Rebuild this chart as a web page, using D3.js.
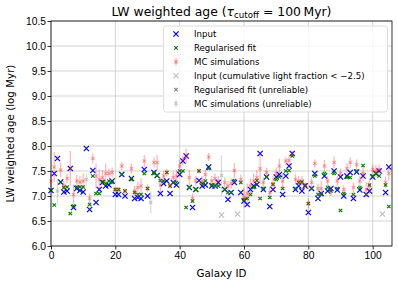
<!DOCTYPE html>
<html>
<head>
<meta charset="utf-8">
<script src="https://cdn.jsdelivr.net/npm/d3@7"></script>
<style>
  body { margin: 0; background: #fff; }
  svg { font-family: "DejaVu Sans", sans-serif; }
  .tick text { font-size: 10.3px; fill: #000; }
  .tick line { stroke: #000; stroke-width: 0.8; }
</style>
</head>
<body>
<div class="chart"></div>
<script>
var svgWidth = 398;
var svgHeight = 284;

// galaxy ids 0..105
var galaxyIds = d3.range(0, 106);

// LW weighted age (log Myr), null where galaxy is not drawn in colour
var inputAge = [7.11, 7.45, 7.75, 7.28, 7.08, 7.10, 7.55, 6.77, 7.15, 7.11,
  7.08, 7.95, 6.73, 7.51, 6.87, 7.13, 7.27, 7.20, 7.22, 7.30,
  7.03, 7.03, 7.43, 7.00, null, 7.35, 6.95, 6.97, 6.95, 7.53,
  7.00, null, 7.47, 7.41, 7.05, 7.25, 7.30, 7.05, 7.27, 7.22,
  7.43, 7.70, 7.80, 7.17, 6.77, 7.13, 7.31, 7.20, 7.22, 7.58,
  7.20, 7.20, 7.27, null, 7.13, 6.93, 7.07, 7.27, null, 7.07,
  6.90, 6.83, 7.13, 7.20, 7.23, 7.85, 7.13, 7.38, 6.79, 7.13,
  7.38, 7.43, 7.03, 7.40, 7.60, 7.85, 7.13, 7.20, 7.10, 7.20,
  6.67, 7.15, 7.45, 6.95, 7.05, 7.40, 7.10, 7.15, 7.50, 7.12,
  7.38, 7.00, 7.40, 7.47, 6.95, 7.48, 7.12, 7.40, 7.03, 7.10,
  7.38, 7.45, 7.50, null, 7.07, 7.58];

var fitAge = [7.12, 6.82, null, 7.27, 7.17, 7.18, 6.65, 6.80, 7.18, 7.18,
  7.18, null, 6.83, 7.40, 7.05, 7.05, 7.29, 7.25, 7.30, 7.27,
  7.13, 7.13, 7.43, 7.10, null, 7.33, 7.07, 7.03, 7.03, 7.45,
  7.15, null, 7.45, 7.41, 7.31, 7.30, 7.47, 7.20, 7.27, 7.27,
  7.50, 7.50, 6.77, 7.17, 6.90, 7.13, 7.50, 7.25, 7.30, 7.55,
  7.22, 7.20, 7.20, null, 7.13, 7.07, 7.07, 7.31, null, 7.27,
  6.93, 6.95, 7.03, 7.17, 7.31, 6.95, 7.15, 7.38, 6.97, 7.23,
  7.33, 7.38, 7.15, 7.50, 7.51, 7.80, 7.15, 7.27, 7.28, 7.22,
  6.85, 7.15, 7.40, 7.03, 7.03, 7.45, 7.17, 7.10, 7.45, 7.15,
  6.71, 7.05, 7.37, 7.37, 7.03, 7.50, 7.17, 7.61, 7.03, 7.22,
  7.40, 7.45, 7.40, null, 7.22, 6.79];

var mcAge = [7.30, 7.58, null, 7.52, 7.20, 7.35, 7.55, 7.03, 7.30, 7.28,
  7.30, null, 6.95, 7.75, 7.40, 7.33, 7.37, 7.45, 7.45, 7.47,
  7.13, 7.13, 7.60, 7.10, null, 7.55, 7.10, 7.17, 7.20, 7.70,
  7.15, null, 7.67, 7.67, 7.22, 7.40, 7.47, 7.20, 7.37, 7.40,
  7.60, 7.71, 7.80, 7.37, 6.95, 7.30, 7.50, 7.30, 7.43, 7.78,
  7.30, 7.35, 7.30, null, 7.27, 7.20, 7.25, 7.51, null, 7.33,
  6.97, 7.05, 7.20, 7.30, 7.37, 7.55, 7.27, 7.47, 7.07, 7.25,
  7.45, 7.60, 7.30, 7.70, 7.71, 7.85, 7.33, 7.30, 7.30, 7.22,
  6.85, 7.27, 7.65, 7.15, 7.15, 7.60, 7.30, 7.10, 7.67, 7.30,
  7.45, 7.13, 7.55, 7.67, 7.17, 7.63, 7.30, 7.45, 7.13, 7.20,
  7.53, 7.50, 7.53, null, 7.27, 7.45];

var mcErr = [0.15, 0.30, null, 0.15, 0.10, 0.10, 0.35, 0.20, 0.12, 0.12,
  0.15, null, 0.10, 0.10, 0.25, 0.20, 0.15, 0.20, 0.10, 0.10,
  0.05, 0.05, 0.08, 0.05, null, 0.10, 0.10, 0.12, 0.15, 0.12,
  0.08, null, 0.10, 0.15, 0.15, 0.10, 0.08, 0.05, 0.12, 0.12,
  0.12, 0.10, 0.15, 0.15, 0.10, 0.10, 0.05, 0.10, 0.10, 0.08,
  0.10, 0.10, 0.10, null, 0.10, 0.10, 0.10, 0.15, null, 0.10,
  0.20, 0.20, 0.15, 0.15, 0.15, 0.30, 0.10, 0.10, 0.12, 0.15,
  0.12, 0.15, 0.15, 0.08, 0.10, 0.05, 0.10, 0.10, 0.10, 0.05,
  0.10, 0.10, 0.08, 0.10, 0.15, 0.12, 0.10, 0.10, 0.12, 0.10,
  0.10, 0.08, 0.10, 0.10, 0.10, 0.10, 0.10, 0.15, 0.15, 0.15,
  0.10, 0.12, 0.10, null, 0.12, 0.15];

// unreliable galaxies (drawn in grey)
var greyInputIds = [53, 58, 103];
var greyInputAge = [6.62, 6.64, 6.64];
var greyMcIds = [2, 11, 31, 53];
var greyMcAge = [7.10, 7.33, 6.87, 7.41];
var greyMcErr = [0.25, 0.12, 0.22, 0.40];

var xTicks = [0, 20, 40, 60, 80, 100];
var yTicks = [6.0, 6.5, 7.0, 7.5, 8.0, 8.5, 9.0, 9.5, 10.0, 10.5];

var margin = { top: 21, right: 6, bottom: 38, left: 51 };
var width = svgWidth - margin.left - margin.right;
var height = svgHeight - margin.top - margin.bottom;

var svg = d3.select(".chart")
  .append("svg")
  .attr("width", svgWidth)
  .attr("height", svgHeight);

var chart = svg.append("g")
  .attr("transform", "translate(" + margin.left + "," + margin.top + ")");

var xScale = d3.scaleLinear().domain([0, 106]).range([0, width]);
var yScale = d3.scaleLinear().domain([6, 10.5]).range([height, 0]);

// grid
chart.append("g").selectAll("line")
  .data(xTicks).enter().append("line")
  .attr("x1", function(d) { return xScale(d); })
  .attr("x2", function(d) { return xScale(d); })
  .attr("y1", 0).attr("y2", height)
  .attr("stroke", "#c8c8c8").attr("stroke-width", 0.8);

chart.append("g").selectAll("line")
  .data(yTicks).enter().append("line")
  .attr("y1", function(d) { return yScale(d); })
  .attr("y2", function(d) { return yScale(d); })
  .attr("x1", 0).attr("x2", width)
  .attr("stroke", "#c8c8c8").attr("stroke-width", 0.8);

function xPath(r) {
  return "M" + (-r) + "," + (-r) + "L" + r + "," + r + "M" + (-r) + "," + r + "L" + r + "," + (-r);
}

function rows(values) {
  var out = [];
  galaxyIds.forEach(function(id, i) {
    if (values[i] != null) out.push({ id: id, v: values[i], e: mcErr[i] });
  });
  return out;
}

// input
chart.append("g").selectAll("path")
  .data(rows(inputAge)).enter().append("path")
  .attr("d", xPath(2.6))
  .attr("transform", function(d) { return "translate(" + xScale(d.id) + "," + yScale(d.v) + ")"; })
  .attr("stroke", "#0000ff").attr("stroke-width", 1.2).attr("fill", "none");

chart.append("g").selectAll("path")
  .data(greyInputIds).enter().append("path")
  .attr("d", xPath(2.6))
  .attr("transform", function(d, i) { return "translate(" + xScale(d) + "," + yScale(greyInputAge[i]) + ")"; })
  .attr("stroke", "#808080").attr("stroke-opacity", 0.5).attr("stroke-width", 1.2).attr("fill", "none");

// regularised fit
chart.append("g").selectAll("path")
  .data(rows(fitAge)).enter().append("path")
  .attr("d", xPath(1.7))
  .attr("transform", function(d) { return "translate(" + xScale(d.id) + "," + yScale(d.v) + ")"; })
  .attr("stroke", "#008000").attr("stroke-width", 1.2).attr("fill", "none");

// MC simulations
var mc = chart.append("g").selectAll("g")
  .data(rows(mcAge)).enter().append("g");

mc.append("line")
  .attr("x1", function(d) { return xScale(d.id); })
  .attr("x2", function(d) { return xScale(d.id); })
  .attr("y1", function(d) { return yScale(d.v - d.e); })
  .attr("y2", function(d) { return yScale(d.v + d.e); })
  .attr("stroke", "#ff0000").attr("stroke-opacity", 0.3).attr("stroke-width", 1.2);

mc.append("path")
  .attr("d", xPath(1.7))
  .attr("transform", function(d) { return "translate(" + xScale(d.id) + "," + yScale(d.v) + ")"; })
  .attr("stroke", "#ff0000").attr("stroke-opacity", 0.35).attr("stroke-width", 1.2).attr("fill", "none");

var greyMc = chart.append("g").selectAll("g")
  .data(greyMcIds).enter().append("g");

greyMc.append("line")
  .attr("x1", function(d) { return xScale(d); })
  .attr("x2", function(d) { return xScale(d); })
  .attr("y1", function(d, i) { return yScale(greyMcAge[i] - greyMcErr[i]); })
  .attr("y2", function(d, i) { return yScale(greyMcAge[i] + greyMcErr[i]); })
  .attr("stroke", "#808080").attr("stroke-opacity", 0.3).attr("stroke-width", 1.2);

greyMc.append("path")
  .attr("d", xPath(1.7))
  .attr("transform", function(d, i) { return "translate(" + xScale(d) + "," + yScale(greyMcAge[i]) + ")"; })
  .attr("stroke", "#808080").attr("stroke-opacity", 0.4).attr("stroke-width", 1.2).attr("fill", "none");

// axes
var bottomAxis = d3.axisBottom(xScale).tickValues(xTicks).tickSize(3.5).tickPadding(2.5)
  .tickFormat(d3.format("d"));
var leftAxis = d3.axisLeft(yScale).tickValues(yTicks).tickSize(3.5).tickPadding(1.5)
  .tickFormat(d3.format(".1f"));

chart.append("g")
  .attr("transform", "translate(0," + height + ")")
  .call(bottomAxis)
  .call(function(g) { g.select(".domain").remove(); });

chart.append("g")
  .call(leftAxis)
  .call(function(g) { g.select(".domain").remove(); });

chart.append("rect")
  .attr("width", width).attr("height", height)
  .attr("fill", "none").attr("stroke", "#000").attr("stroke-width", 0.8);

// labels
var title = svg.append("text")
  .attr("x", margin.left + width / 2).attr("y", 15.5)
  .attr("text-anchor", "middle").attr("font-size", "12.4px");
title.append("tspan").text("LW weighted age (");
title.append("tspan").attr("font-style", "italic").text("τ");
title.append("tspan").attr("font-size", "8.7px").attr("dy", 2).text("cutoff");
title.append("tspan").attr("dy", -2).text(" = 100\u2009Myr)");

svg.append("text")
  .attr("x", margin.left + width / 2).attr("y", 277)
  .attr("text-anchor", "middle").attr("font-size", "10.3px")
  .text("Galaxy ID");

svg.append("text")
  .attr("transform", "translate(14," + (margin.top + height / 2) + ") rotate(-90)")
  .attr("text-anchor", "middle").attr("font-size", "10.3px")
  .text("LW weighted age (log Myr)");

// legend
var legendLabels = ["Input", "Regularised fit", "MC simulations",
  "Input (cumulative light fraction  < \u22122.5)", "Regularised fit (unreliable)", "MC simulations (unreliable)"];

var legend = svg.append("g");
legend.append("rect")
  .attr("x", 163.5).attr("y", 26).attr("width", 224).attr("height", 86)
  .attr("rx", 2.5).attr("fill", "#fff").attr("fill-opacity", 0.8)
  .attr("stroke", "#d5d5d5").attr("stroke-width", 0.8);

var legendRow = legend.selectAll("g.row")
  .data(legendLabels).enter().append("g")
  .attr("class", "row")
  .attr("transform", function(d, i) { return "translate(176," + (34 + i * 13.9) + ")"; });

legendRow.append("text")
  .attr("x", 18).attr("y", 3)
  .attr("font-size", "8.6px")
  .text(function(d) { return d; });

legendRow.each(function(d, i) {
  var row = d3.select(this);
  if (i === 0) row.append("path").attr("d", xPath(2.6)).attr("stroke", "#0000ff").attr("stroke-width", 1.2);
  if (i === 1) row.append("path").attr("d", xPath(1.7)).attr("stroke", "#008000").attr("stroke-width", 1.2);
  if (i === 2 || i === 5) {
    var c = i === 2 ? "#ff0000" : "#808080";
    row.append("line").attr("y1", -4).attr("y2", 4).attr("stroke", c).attr("stroke-opacity", 0.3).attr("stroke-width", 1.2);
    row.append("path").attr("d", xPath(1.7)).attr("stroke", c).attr("stroke-opacity", 0.4).attr("stroke-width", 1.2);
  }
  if (i === 3) row.append("path").attr("d", xPath(2.6)).attr("stroke", "#808080").attr("stroke-opacity", 0.5).attr("stroke-width", 1.2);
  if (i === 4) row.append("path").attr("d", xPath(1.7)).attr("stroke", "#808080").attr("stroke-width", 1.2);
});
</script>
</body>
</html>
